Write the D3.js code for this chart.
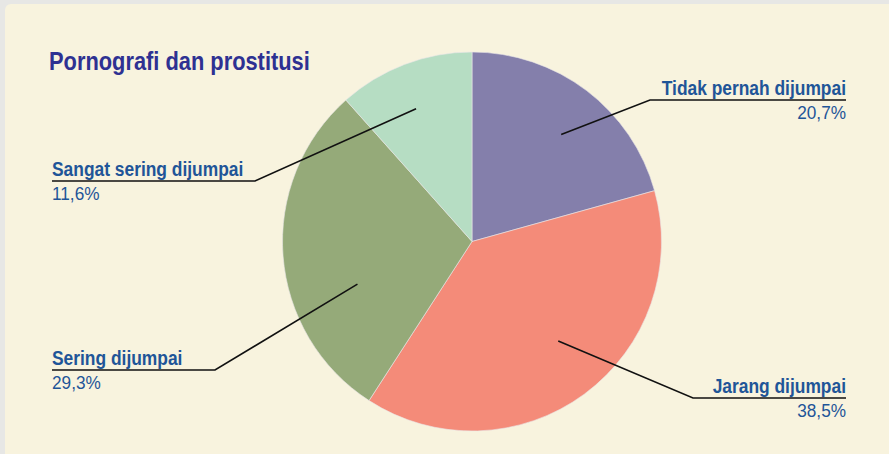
<!DOCTYPE html>
<html lang="id">
<head>
    <meta charset="UTF-8">
    <title>Pornografi dan prostitusi</title>
    <script src="https://d3js.org/d3.v7.min.js"></script>
    <style>
        body { margin: 0; background: #e7e7e5; }
        text { font-family: "Liberation Sans Narrow", "Arial Narrow", "Liberation Sans", Arial, sans-serif; }
    </style>
</head>
<body>
    <div id="chart"></div>
    <script>
        // data
        const categories = ["Tidak pernah dijumpai", "Jarang dijumpai", "Sering dijumpai", "Sangat sering dijumpai"];
        const values = [20.7, 38.5, 29.3, 11.6];
        const valueLabels = ["20,7%", "38,5%", "29,3%", "11,6%"];
        const colors = ["#847fab", "#f48b79", "#95aa79", "#b6ddc3"];

        // leader line layout: angle nudge (deg), anchor radius fraction, elbow, label side
        const leaders = [
            { nudge: 2.6, rf: 0.735, ex: 650, ey: 100, side: "right" },
            { nudge: -4.6, rf: 0.695, ex: 693, ey: 398, side: "right" },
            { nudge: -16, rf: 0.645, ex: 215, ey: 370, side: "left" },
            { nudge: -2, rf: 0.76, ex: 255, ey: 181, side: "left" }
        ];

        const width = 889, height = 454;
        const cx = 472, cy = 241.5, r = 189.5;

        const svg = d3.select("#chart").append("svg")
            .attr("width", width)
            .attr("height", height);

        // cream panel
        svg.append("rect")
            .attr("x", 5).attr("y", 4)
            .attr("width", width + 20).attr("height", height + 20)
            .attr("rx", 6)
            .attr("fill", "#f8f3de");

        // narrow-looking text: squeeze horizontally
        function narrowText(x, y, sx, anchor) {
            return svg.append("text")
                .attr("transform", `translate(${x},${y}) scale(${sx},1)`)
                .attr("text-anchor", anchor);
        }

        narrowText(49, 70, 0.84, "start")
            .attr("font-size", 26)
            .attr("font-weight", "bold")
            .attr("fill", "#2e3192")
            .text("Pornografi dan prostitusi");

        const pie = d3.pie().sort(null).value(d => d);
        const arcs = pie(values);
        const arc = d3.arc().innerRadius(0).outerRadius(r);

        const g = svg.append("g").attr("transform", `translate(${cx},${cy})`);
        g.selectAll("path")
            .data(arcs)
            .enter().append("path")
            .attr("d", arc)
            .attr("fill", (d, i) => colors[i])
            .attr("stroke", "#e9e6e8")
            .attr("stroke-width", 0.6);

        const left = 52, right = 846;

        arcs.forEach((d, i) => {
            const L = leaders[i];
            const a = (d.startAngle + d.endAngle) / 2 + L.nudge * Math.PI / 180;
            const ax = cx + Math.sin(a) * r * L.rf;
            const ay = cy - Math.cos(a) * r * L.rf;
            const endX = L.side === "right" ? right : left;

            svg.append("polyline")
                .attr("points", `${ax},${ay} ${L.ex},${L.ey} ${endX},${L.ey}`)
                .attr("fill", "none")
                .attr("stroke", "#111")
                .attr("stroke-width", 1.6);

            const anchor = L.side === "right" ? "end" : "start";
            narrowText(endX, L.ey - 5, 0.87, anchor)
                .attr("font-size", 20)
                .attr("font-weight", "bold")
                .attr("fill", "#1f5598")
                .text(categories[i]);
            narrowText(endX, L.ey + 19, 0.93, anchor)
                .attr("font-size", 18.5)
                .attr("fill", "#1f5598")
                .text(valueLabels[i]);
        });
    </script>
</body>
</html>
